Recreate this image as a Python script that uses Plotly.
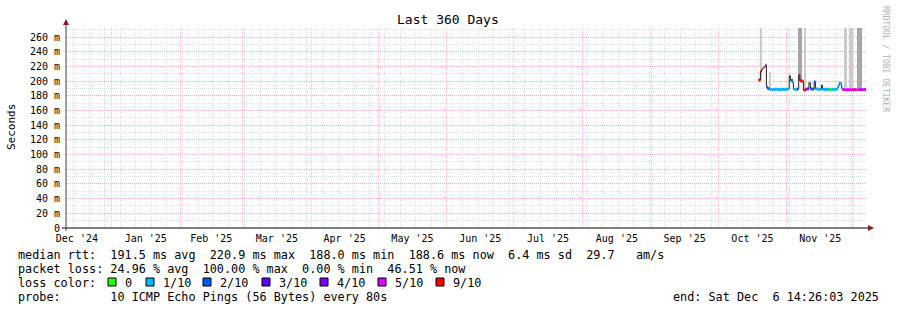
import plotly.graph_objects as go
import pandas as pd

# ---------------- data ----------------
range_start = "2024-12-11 14:26:03"
range_end = "2025-12-06 14:26:03"

med_time = [
    "2025-10-19 04:20", "2025-10-20 01:55", "2025-10-20 12:40", "2025-10-20 23:30",
    "2025-10-21 10:15", "2025-10-21 21:00", "2025-10-22 07:50", "2025-10-22 18:35",
    "2025-10-23 05:30", "2025-10-23 21:50", "2025-10-24 19:25", "2025-10-25 17:00",
    "2025-10-26 14:40", "2025-10-27 12:15", "2025-10-28 09:50", "2025-10-29 07:25",
    "2025-10-30 05:00", "2025-10-31 02:40", "2025-11-01 00:15", "2025-11-01 16:20",
    "2025-11-02 01:00", "2025-11-02 14:00", "2025-11-03 00:45", "2025-11-03 11:30",
    "2025-11-03 22:20", "2025-11-04 14:40", "2025-11-05 12:15", "2025-11-05 23:00",
    "2025-11-06 07:40", "2025-11-06 20:40", "2025-11-07 18:10", "2025-11-08 10:20",
    "2025-11-08 21:10", "2025-11-09 13:25", "2025-11-10 05:30", "2025-11-10 21:50",
    "2025-11-11 14:00", "2025-11-12 11:30", "2025-11-13 07:00", "2025-11-13 20:00",
    "2025-11-14 12:15", "2025-11-15 09:50", "2025-11-16 12:45", "2025-11-16 23:30",
    "2025-11-18 02:40", "2025-11-19 11:00", "2025-11-20 08:40", "2025-11-21 00:45",
    "2025-11-21 17:00", "2025-11-22 14:40", "2025-11-23 17:30", "2025-11-24 04:20",
    "2025-11-24 15:10", "2025-11-25 02:00", "2025-11-25 12:45", "2025-11-25 23:30",
    "2025-11-26 15:50", "2025-11-27 13:25", "2025-11-28 11:00", "2025-11-29 08:40",
    "2025-11-30 06:15", "2025-12-01 03:50", "2025-12-01 14:40", "2025-12-02 06:45",
    "2025-12-03 04:20", "2025-12-03 15:10", "2025-12-04 07:25", "2025-12-05 05:00",
    "2025-12-06 02:40",
]
med_value = [
    0.2015, 0.2130, 0.2150, 0.2170,
    0.2185, 0.2200, 0.2215, 0.1925,
    0.1900, 0.1890, 0.1887, 0.1885,
    0.1891, 0.1886, 0.1885, 0.1890,
    0.1886, 0.1888, 0.1890, 0.1895,
    0.2070, 0.2000, 0.2025, 0.1985,
    0.1890, 0.1888, 0.1890, 0.1900,
    0.2080, 0.2005, 0.2000, 0.1880,
    0.1880, 0.1890, 0.1895, 0.1978,
    0.1895, 0.1890, 0.1992, 0.1895,
    0.1890, 0.1888, 0.1945, 0.1890,
    0.1887, 0.1889, 0.1886, 0.1888,
    0.1887, 0.1889, 0.1910, 0.1945,
    0.1978, 0.1970, 0.1910, 0.1885,
    0.1882, 0.1883, 0.1882, 0.1883,
    0.1882, 0.1884, 0.1883, 0.1882,
    0.1883, 0.1885, 0.1883, 0.1884,
    0.1886,
]
# loss in tenths (-1 = range without a legend colour)
med_loss = [
    9, 9, -1, -1,
    -1, -1, 4, 2,
    2, 1, 1, 1,
    1, 1, 1, 1,
    1, 1, 1, 1,
    -1, 1, -1, 1,
    1, 1, 2, 3,
    9, 9, 9, 9,
    9, 4, 4, -1,
    2, 2, 2, 1,
    1, 1, -1, 1,
    1, 1, 0, 1,
    1, 1, 1, 1,
    1, 1, 1, 5,
    5, 5, 5, 5,
    5, 9, 5, 5,
    5, 3, 5, 5,
    5,
]

smoke_start = ["2025-10-20 01:55", "2025-10-24 06:30", "2025-11-01 22:50", "2025-11-06 02:10",
               "2025-11-09 02:25", "2025-11-26 12:30", "2025-11-28 18:30", "2025-12-02 08:50"]
smoke_end = ["2025-10-20 12:40", "2025-10-24 17:15", "2025-11-02 09:35", "2025-11-07 18:15",
             "2025-11-09 18:40", "2025-11-28 03:20", "2025-11-30 13:40", "2025-12-04 18:15"]
smoke_lo = [0.200, 0.190, 0.204, 0.200, 0.188, 0.190, 0.190, 0.190]
smoke_hi = [0.300, 0.213, 0.211, 0.300, 0.300, 0.300, 0.300, 0.300]
smoke_shade = ["light", "light", "light", "dark", "light", "light", "light", "dark"]

loss_levels = [0, 1, 2, 3, 4, 5, 9]
loss_labels = ["0", "1/10", "2/10", "3/10", "4/10", "5/10", "9/10"]
loss_colors = ["#26ff00", "#00b8ff", "#0059ff", "#5e00ff", "#7e00ff", "#dd00ff", "#ff0000"]

y_tick_vals = [0, 0.02, 0.04, 0.06, 0.08, 0.10, 0.12, 0.14, 0.16, 0.18, 0.20, 0.22, 0.24, 0.26]
y_tick_text = ["0", "20 m", "40 m", "60 m", "80 m", "100 m", "120 m", "140 m", "160 m",
               "180 m", "200 m", "220 m", "240 m", "260 m"]

stats_rtt = ["191.5", "220.9", "188.0", "188.6", "6.4", "29.7"]
stats_loss = ["24.96", "100.00", "0.00", "46.51"]
probe_text = "10 ICMP Echo Pings (56 Bytes) every 80s"
end_text = "end: Sat Dec  6 14:26:03 2025"
title_text = "Last 360 Days"

# ---------------- figure ----------------
W, H = 897, 310
L, T, PW, PH = 66, 28, 800, 200
FONT = "DejaVu Sans Mono"


def px(x):
    return (x - L) / PW


def py(y):
    return (T + PH - y) / PH


t = pd.to_datetime(pd.Series(med_time))
t_next = list(t[1:]) + [pd.Timestamp(range_end)]

fig = go.Figure()

# smoke
s0 = pd.to_datetime(pd.Series(smoke_start))
s1 = pd.to_datetime(pd.Series(smoke_end))
shade_col = {"light": "#cbcbcb", "dark": "#a6a6a6"}
fig.add_trace(go.Bar(
    x=s0 + (s1 - s0) / 2,
    y=[h - l for h, l in zip(smoke_hi, smoke_lo)],
    base=smoke_lo,
    width=[(b - a).total_seconds() * 1000 for a, b in zip(s0, s1)],
    marker=dict(color=[shade_col[s] for s in smoke_shade], line=dict(width=0)),
    showlegend=False, hoverinfo="skip",
))

# thin dark median line (step)
fig.add_trace(go.Scatter(
    x=list(t) + [pd.Timestamp(range_end)], y=med_value + [med_value[-1]],
    mode="lines", line=dict(color="#202020", width=1, shape="hv"),
    showlegend=False, hoverinfo="skip",
))

# coloured loss segments
for lvl, col in zip(loss_levels, loss_colors):
    xs, ys = [], []
    for i, (tv, v, ls) in enumerate(zip(t, med_value, med_loss)):
        if ls == lvl:
            xs += [tv, t_next[i], None]
            ys += [v, v, None]
    if xs:
        fig.add_trace(go.Scatter(
            x=xs, y=ys, mode="lines", line=dict(color=col, width=3),
            showlegend=False, hoverinfo="skip", connectgaps=False,
        ))

grid_minor = "#dedede"
grid_major = "rgba(238,120,120,0.45)"

fig.update_xaxes(
    type="date", range=[range_start, range_end],
    dtick="M1", tick0="2024-12-01", ticklabelmode="period", tickformat="%b '%y",
    showgrid=True, gridcolor=grid_major, griddash="1px,1px", gridwidth=1,
    minor=dict(dtick=7 * 86400000, tick0="2024-12-15", showgrid=True,
               gridcolor=grid_minor, griddash="1px,1px", gridwidth=1),
    showline=False, zeroline=False, ticks="", ticklabelstandoff=3,
    tickfont=dict(family=FONT, size=10, color="#000000"),
    fixedrange=True,
)
fig.update_yaxes(
    range=[0, 0.2723], tickmode="array", tickvals=y_tick_vals, ticktext=y_tick_text,
    showgrid=True, gridcolor=grid_major, griddash="1px,1px", gridwidth=1,
    minor=dict(dtick=0.01, tick0=0, showgrid=True, gridcolor=grid_minor,
               griddash="1px,1px", gridwidth=1),
    showline=False, zeroline=False, ticks="", ticklabelstandoff=5,
    tickfont=dict(family=FONT, size=10, color="#000000"),
    fixedrange=True,
)

shapes = []
# axis lines
shapes.append(dict(type="line", xref="paper", yref="paper", x0=px(62), x1=px(869),
                   y0=0, y1=0, line=dict(color="#000000", width=1)))
shapes.append(dict(type="line", xref="paper", yref="paper", x0=0, x1=0,
                   y0=py(231), y1=py(24), line=dict(color="#404040", width=1)))
# arrows
shapes.append(dict(type="path", xref="paper", yref="paper",
                   path=f"M {px(868)},{py(225)} L {px(874)},{py(228)} L {px(868)},{py(231)} Z",
                   fillcolor="#8b1a1a", line=dict(color="#8b1a1a", width=0)))
shapes.append(dict(type="path", xref="paper", yref="paper",
                   path=f"M {px(63)},{py(25)} L {px(66)},{py(19)} L {px(69)},{py(25)} Z",
                   fillcolor="#8b1a1a", line=dict(color="#8b1a1a", width=0)))

NB = "\u00a0"


def nb(s):
    return s.replace(" ", NB)


ann = []
lf = dict(family=FONT, size=11.8, color="#000000")
ann.append(dict(text=title_text, x=px(448), y=py(19), xref="paper", yref="paper",
                showarrow=False, xanchor="center", yanchor="middle",
                font=dict(family=FONT, size=13, color="#000000")))
ann.append(dict(text="Seconds", x=px(11), y=py(127), xref="paper", yref="paper",
                showarrow=False, xanchor="center", yanchor="middle", textangle=-90,
                font=dict(family=FONT, size=11, color="#000000")))
ann.append(dict(text="RRDTOOL / TOBI OETIKER", x=px(886), y=py(59), xref="paper", yref="paper",
                showarrow=False, xanchor="center", yanchor="middle", textangle=90,
                font=dict(family=FONT, size=8, color="#b0b0b0")))

line1 = (f"median rtt:  {stats_rtt[0]} ms avg  {stats_rtt[1]} ms max  {stats_rtt[2]} ms min  "
         f"{stats_rtt[3]} ms now  {stats_rtt[4]} ms sd  {stats_rtt[5]}   am/s")
line2 = (f"packet loss: {stats_loss[0]} % avg  {stats_loss[1]} % max  {stats_loss[2]} % min  "
         f"{stats_loss[3]} % now")
line4 = f"probe:       {probe_text}"
for txt, yy in [(line1, 254.5), (line2, 268.5), ("loss color:", 282.5), (line4, 296.5)]:
    ann.append(dict(text=nb(txt), x=px(16), y=py(yy), xref="paper", yref="paper",
                    showarrow=False, xanchor="left", yanchor="middle", font=lf))
ann.append(dict(text=nb(end_text), x=px(881), y=py(296.5), xref="paper", yref="paper",
                showarrow=False, xanchor="right", yanchor="middle", font=lf))

box_x = [108, 146, 203, 262, 320, 378, 436]
for bx, lab, col in zip(box_x, loss_labels, loss_colors):
    shapes.append(dict(type="rect", xref="paper", yref="paper",
                       x0=px(bx), x1=px(bx + 8), y0=py(286), y1=py(278),
                       fillcolor=col, line=dict(color="#000000", width=1)))
    ann.append(dict(text=lab, x=px(bx + 15), y=py(282.5), xref="paper", yref="paper",
                    showarrow=False, xanchor="left", yanchor="middle", font=lf))

fig.update_layout(
    width=W, height=H,
    margin=dict(l=L, r=W - L - PW, t=T, b=H - T - PH, pad=0),
    paper_bgcolor="#ffffff", plot_bgcolor="#ffffff",
    barmode="overlay", bargap=0, showlegend=False,
    shapes=shapes, annotations=ann,
)

fig.write_html("out.html")
